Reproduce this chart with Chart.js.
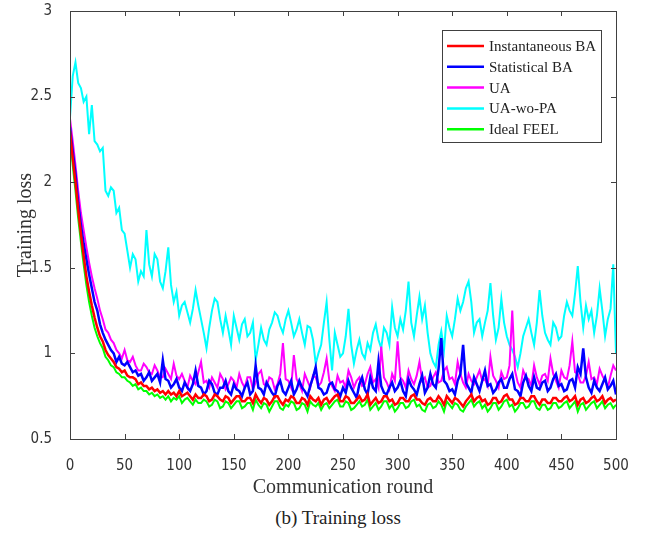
<!DOCTYPE html>
<html>
<head>
<meta charset="utf-8">
<script src="https://cdn.jsdelivr.net/npm/chart.js@4.4.1/dist/chart.umd.min.js"></script>
<style>
  html, body { margin: 0; padding: 0; background: #fff; overflow: hidden; }
  #wrap { position: relative; width: 649px; height: 538px; overflow: hidden; }
  #box { position: absolute; left: 0; top: -8px; width: 649px; height: 508px; }
  #caption {
    position: absolute; left: 0; top: 507px; width: 676px;
    text-align: center; font-family: 'Liberation Serif', 'Times New Roman', serif;
    font-size: 19px; color: #222;
  }
</style>
</head>
<body>
<div id="wrap">
  <div id="box"><canvas id="lossChart"></canvas></div>
  <div id="caption">(b) Training loss</div>
</div>
<script>
// ─── DATA (one value every 2.5 rounds) ────────────────────────────────────────
const rounds = Array.from({ length: 201 }, (_, i) => i * 2.5);
const xTicks = [0, 50, 100, 150, 200, 250, 300, 350, 400, 450, 500];
const yTicks = [0.5, 1, 1.5, 2, 2.5, 3];

const instantaneousBA = [
  2.30, 2.14, 2.00, 1.84, 1.70, 1.57, 1.45, 1.36, 1.28, 1.21,
  1.15, 1.10, 1.07, 1.02, 0.99, 0.97, 0.95, 0.92, 0.91, 0.89,
  0.90, 0.87, 0.86, 0.86, 0.85, 0.82, 0.83, 0.81, 0.81, 0.79,
  0.80, 0.78, 0.79, 0.77, 0.78, 0.76, 0.78, 0.76, 0.77, 0.75,
  0.78, 0.75, 0.76, 0.77, 0.75, 0.73, 0.76, 0.74, 0.74, 0.76,
  0.75, 0.72, 0.73, 0.76, 0.75, 0.73, 0.72, 0.75, 0.74, 0.71,
  0.73, 0.75, 0.75, 0.72, 0.72, 0.74, 0.74, 0.71, 0.76, 0.73,
  0.71, 0.74, 0.73, 0.70, 0.72, 0.75, 0.75, 0.72, 0.70, 0.73,
  0.72, 0.75, 0.74, 0.71, 0.71, 0.74, 0.73, 0.70, 0.75, 0.73,
  0.72, 0.74, 0.70, 0.73, 0.74, 0.71, 0.73, 0.75, 0.76, 0.72,
  0.72, 0.75, 0.74, 0.71, 0.71, 0.73, 0.75, 0.72, 0.73, 0.76,
  0.70, 0.72, 0.74, 0.71, 0.72, 0.75, 0.75, 0.72, 0.73, 0.70,
  0.71, 0.74, 0.74, 0.72, 0.72, 0.75, 0.76, 0.73, 0.73, 0.71,
  0.70, 0.73, 0.74, 0.72, 0.72, 0.75, 0.73, 0.70, 0.75, 0.73,
  0.71, 0.74, 0.73, 0.71, 0.69, 0.72, 0.74, 0.76, 0.72, 0.74,
  0.75, 0.72, 0.73, 0.70, 0.71, 0.74, 0.74, 0.71, 0.72, 0.75,
  0.76, 0.73, 0.73, 0.70, 0.71, 0.74, 0.74, 0.72, 0.72, 0.75,
  0.75, 0.72, 0.70, 0.73, 0.73, 0.71, 0.71, 0.74, 0.74, 0.72,
  0.72, 0.74, 0.75, 0.72, 0.73, 0.75, 0.70, 0.73, 0.74, 0.71,
  0.72, 0.74, 0.75, 0.72, 0.73, 0.75, 0.71, 0.73, 0.74, 0.72,
  0.73
];

const statisticalBA = [
  2.32, 2.18, 2.05, 1.88, 1.75, 1.64, 1.55, 1.46, 1.38, 1.30,
  1.25, 1.17, 1.12, 1.08, 1.05, 1.02, 1.00, 0.95, 0.98, 0.94,
  0.93, 0.95, 0.92, 0.89, 0.90, 0.87, 0.88, 0.84, 0.86, 0.89,
  0.84, 0.86, 0.88, 0.83, 0.96, 0.85, 0.84, 0.80, 0.82, 0.85,
  0.80, 0.78, 0.83, 0.80, 0.78, 0.82, 0.90, 0.81, 0.80, 0.76,
  0.78, 0.84, 0.82, 0.77, 0.76, 0.80, 0.80, 0.84, 0.78, 0.76,
  0.82, 0.79, 0.78, 0.75, 0.80, 0.83, 0.76, 0.78, 0.93, 0.80,
  0.79, 0.76, 0.83, 0.80, 0.77, 0.75, 0.81, 0.84, 0.78, 0.76,
  0.80, 0.84, 0.76, 0.79, 0.84, 0.80, 0.78, 0.75, 0.81, 0.86,
  0.92, 0.80, 0.79, 0.76, 0.77, 0.82, 0.83, 0.79, 0.78, 0.75,
  0.80, 0.77, 0.84, 0.80, 0.77, 0.74, 0.82, 0.86, 0.79, 0.76,
  0.86, 0.80, 0.78, 0.95, 0.81, 0.77, 0.76, 0.80, 0.83, 0.78,
  0.80, 0.84, 0.78, 0.75, 0.85, 0.81, 0.79, 0.76, 0.82, 0.87,
  0.77, 0.80, 0.88, 0.82, 0.80, 0.91, 1.09, 0.84, 0.82, 0.78,
  0.79, 0.76, 0.84, 0.88, 1.05, 0.83, 0.80, 0.77, 0.86, 0.82,
  0.78, 0.84, 0.90, 0.81, 0.82, 0.77, 0.79, 0.83, 0.85, 0.80,
  0.80, 0.85, 0.88, 0.79, 0.78, 0.75, 0.83, 0.87, 0.81, 0.78,
  0.86, 0.80, 0.79, 0.83, 0.84, 0.78, 0.80, 0.85, 0.88, 0.81,
  0.82, 0.78, 0.79, 0.84, 0.85, 0.80, 0.92, 0.88, 1.03, 0.86,
  0.80, 0.77, 0.84, 0.80, 0.78, 0.82, 0.86, 0.79, 0.81, 0.84,
  0.76
];

const ua = [
  2.37, 2.24, 2.10, 1.95, 1.82, 1.72, 1.62, 1.53, 1.45, 1.38,
  1.32, 1.25, 1.20, 1.14, 1.12, 1.08, 1.06, 1.02, 1.00, 0.97,
  1.02, 0.96, 0.95, 0.98, 0.93, 0.90, 0.90, 0.94, 0.92, 0.89,
  0.88, 0.93, 0.90, 0.86, 0.86, 0.91, 0.88, 0.85, 0.94, 0.87,
  0.85, 0.88, 0.84, 0.80, 0.87, 0.84, 0.82, 0.89, 0.95, 0.83,
  0.84, 0.80, 0.86, 0.83, 0.80, 0.88, 0.85, 0.79, 0.82, 0.86,
  0.84, 0.80, 0.88, 0.83, 0.80, 0.86, 0.86, 0.79, 0.83, 0.88,
  0.90, 0.82, 0.81, 0.86, 0.85, 0.79, 0.82, 0.88, 1.06, 0.85,
  0.84, 0.80, 0.99, 0.85, 0.82, 0.78, 0.88, 0.84, 0.80, 0.87,
  0.86, 0.81, 0.83, 0.89, 0.97, 0.84, 0.81, 0.78, 0.87, 0.83,
  0.84, 0.80, 0.90, 0.86, 0.80, 0.84, 0.86, 0.81, 0.82, 0.88,
  0.92, 0.83, 0.85, 0.80, 1.04, 0.86, 0.83, 0.79, 0.88, 0.84,
  1.07, 0.86, 0.84, 0.80, 0.90, 0.85, 0.82, 0.87, 0.95, 0.84,
  0.86, 0.80, 0.81, 0.86, 0.89, 0.83, 0.84, 0.90, 0.92, 0.85,
  0.86, 0.82, 0.95, 0.88, 0.83, 0.80, 0.88, 0.84, 0.82, 0.86,
  0.90, 0.84, 0.85, 0.81, 0.98, 0.87, 0.84, 0.80, 0.89, 0.85,
  0.86, 0.93, 1.25, 0.90, 0.83, 0.80, 0.90, 0.86, 0.85, 0.81,
  0.93, 0.86, 0.82, 0.87, 0.88, 0.84, 0.97, 0.88, 0.84, 0.80,
  0.90, 0.86, 0.85, 0.93, 1.07, 0.89, 0.88, 0.83, 0.83, 0.87,
  0.95, 0.85, 0.86, 0.82, 0.91, 0.87, 0.84, 0.80, 0.87, 0.93,
  0.90
];

const uaWoPA = [
  2.38, 2.62, 2.70, 2.58, 2.55, 2.47, 2.50, 2.28, 2.45, 2.24,
  2.22, 2.18, 2.20, 1.95, 1.92, 1.97, 1.95, 1.82, 1.85, 1.72,
  1.70, 1.60, 1.50, 1.58, 1.55, 1.42, 1.48, 1.45, 1.72, 1.52,
  1.45, 1.58, 1.55, 1.42, 1.38, 1.48, 1.62, 1.40, 1.30, 1.36,
  1.22, 1.28, 1.30, 1.24, 1.18, 1.26, 1.37, 1.28, 1.20, 1.12,
  1.03, 1.15, 1.25, 1.32, 1.30, 1.20, 1.12, 1.22, 1.14, 1.05,
  1.22, 1.15, 1.08, 1.17, 1.20, 1.10, 1.12, 1.18, 0.96, 1.05,
  1.15, 1.08, 1.05, 1.14, 1.18, 1.24, 1.22, 1.16, 1.12, 1.20,
  1.25, 1.18, 1.10, 1.14, 1.20, 1.12, 1.05, 1.16, 1.15, 1.08,
  0.94, 1.00, 1.05, 1.18, 1.30, 1.08, 0.90, 1.12, 1.05, 0.98,
  1.00, 1.10, 1.26, 1.05, 0.94, 1.02, 1.08, 1.00, 0.97, 1.06,
  1.02, 1.12, 1.17, 1.08, 1.03, 1.15, 1.12, 1.05, 1.27, 1.15,
  1.10, 1.20, 1.14, 1.25, 1.42, 1.18, 1.10, 1.22, 1.33, 1.20,
  1.28, 1.12, 1.00, 0.95, 0.92, 1.05, 1.13, 1.02, 1.22, 1.15,
  1.10, 1.20, 1.32, 1.25, 1.30, 1.38, 1.42, 1.30, 1.12, 1.18,
  1.20, 1.10, 1.18, 1.25, 1.41, 1.22, 1.08, 1.15, 1.32, 1.18,
  1.10, 1.05, 1.02, 0.98, 0.92, 1.00, 1.10, 1.15, 1.20, 1.12,
  1.05, 1.18, 1.37, 1.22, 1.12, 1.08, 1.05, 1.18, 1.15, 1.08,
  1.10, 1.22, 1.30, 1.25, 1.22, 1.35, 1.51, 1.30, 1.15, 1.28,
  1.20, 1.25, 1.12, 1.22, 1.38, 1.25, 1.10, 1.20, 1.26, 1.52,
  1.00
];

const idealFEEL = [
  2.28, 2.10, 1.95, 1.79, 1.65, 1.52, 1.40, 1.30, 1.22, 1.15,
  1.10, 1.06, 1.03, 0.98, 0.96, 0.93, 0.92, 0.89, 0.88, 0.86,
  0.86, 0.84, 0.83, 0.81, 0.82, 0.79, 0.80, 0.78, 0.78, 0.76,
  0.77, 0.75, 0.76, 0.74, 0.75, 0.73, 0.75, 0.72, 0.74, 0.73,
  0.75, 0.71, 0.73, 0.74, 0.72, 0.70, 0.73, 0.71, 0.71, 0.73,
  0.72, 0.69, 0.70, 0.73, 0.72, 0.68, 0.69, 0.72, 0.71, 0.68,
  0.70, 0.72, 0.72, 0.68, 0.69, 0.71, 0.71, 0.67, 0.73, 0.70,
  0.68, 0.71, 0.70, 0.66, 0.69, 0.72, 0.72, 0.68, 0.67, 0.70,
  0.69, 0.72, 0.71, 0.67, 0.68, 0.71, 0.70, 0.66, 0.72, 0.70,
  0.69, 0.71, 0.67, 0.70, 0.71, 0.68, 0.70, 0.72, 0.73, 0.69,
  0.69, 0.72, 0.71, 0.67, 0.68, 0.70, 0.72, 0.69, 0.70, 0.73,
  0.67, 0.69, 0.71, 0.67, 0.69, 0.72, 0.72, 0.68, 0.70, 0.66,
  0.68, 0.71, 0.71, 0.68, 0.69, 0.72, 0.73, 0.69, 0.70, 0.67,
  0.66, 0.70, 0.71, 0.68, 0.69, 0.72, 0.70, 0.66, 0.72, 0.70,
  0.68, 0.71, 0.70, 0.67, 0.66, 0.69, 0.71, 0.73, 0.69, 0.71,
  0.72, 0.68, 0.70, 0.66, 0.68, 0.71, 0.71, 0.67, 0.69, 0.72,
  0.73, 0.69, 0.70, 0.66, 0.68, 0.71, 0.71, 0.68, 0.69, 0.72,
  0.72, 0.68, 0.67, 0.70, 0.70, 0.67, 0.68, 0.71, 0.71, 0.68,
  0.69, 0.71, 0.72, 0.68, 0.70, 0.72, 0.66, 0.70, 0.71, 0.67,
  0.69, 0.71, 0.72, 0.68, 0.70, 0.72, 0.68, 0.70, 0.71, 0.68,
  0.70
];

// ─── STYLE ────────────────────────────────────────────────────────────────────
const AXIS_COLOR = '#404040';
const TICK_FONT  = "'Liberation Sans Narrow', 'DejaVu Sans Condensed', 'Liberation Sans', sans-serif";
const SERIF_FONT = "'Liberation Serif', 'Times New Roman', serif";

function series(label, values, color, width, order) {
  return {
    label,
    data: values.map((v, i) => ({ x: rounds[i], y: v })),
    borderColor: color,
    backgroundColor: color,
    borderWidth: width,
    pointRadius: 0,
    tension: 0,
    order,
  };
}

// box + inward ticks on all four sides, legend box top right
const framePlugin = {
  id: 'frame',
  afterDatasetsDraw(chart) {
    const { ctx, chartArea: a, scales: { x, y } } = chart;
    ctx.save();
    ctx.strokeStyle = AXIS_COLOR;
    ctx.lineWidth = 1;
    ctx.strokeRect(a.left + 0.5, a.top + 0.5, a.right - a.left, a.bottom - a.top);
    const len = 5;
    ctx.beginPath();
    xTicks.forEach((t) => {
      const px = Math.round(x.getPixelForValue(t)) + 0.5;
      ctx.moveTo(px, a.bottom); ctx.lineTo(px, a.bottom - len);
      ctx.moveTo(px, a.top);    ctx.lineTo(px, a.top + len);
    });
    yTicks.forEach((t) => {
      const py = Math.round(y.getPixelForValue(t)) + 0.5;
      ctx.moveTo(a.left, py);  ctx.lineTo(a.left + len, py);
      ctx.moveTo(a.right, py); ctx.lineTo(a.right - len, py);
    });
    ctx.stroke();
    ctx.restore();
  },
  afterDraw(chart) {
    const { ctx, chartArea: a } = chart;
    const bx = 442, by = a.top + 19, bw = 159, bh = 112;
    ctx.save();
    ctx.fillStyle = '#fff';
    ctx.fillRect(bx, by, bw, bh);
    ctx.strokeStyle = AXIS_COLOR;
    ctx.lineWidth = 1;
    ctx.strokeRect(bx + 0.5, by + 0.5, bw, bh);
    ctx.font = `15px ${SERIF_FONT}`;
    ctx.textBaseline = 'middle';
    chart.data.datasets.forEach((ds, i) => {
      const ry = by + 16 + i * 20.8;
      ctx.strokeStyle = ds.borderColor;
      ctx.lineWidth = 2.5;
      ctx.beginPath();
      ctx.moveTo(bx + 5, ry); ctx.lineTo(bx + 42, ry);
      ctx.stroke();
      ctx.fillStyle = '#222';
      ctx.fillText(ds.label, bx + 47, ry + 1);
    });
    ctx.restore();
  },
};

const ctx = document.getElementById('lossChart').getContext('2d');

new Chart(ctx, {
  type: 'line',
  data: {
    datasets: [
      series('Instantaneous BA', instantaneousBA, '#ff0000', 2.5, 1),
      series('Statistical BA',   statisticalBA,   '#0000ff', 2.5, 2),
      series('UA',               ua,              '#ff00ff', 2,   3),
      series('UA-wo-PA',         uaWoPA,          '#00ffff', 2,   4),
      series('Ideal FEEL',       idealFEEL,       '#00ff00', 2,   5),
    ],
  },
  plugins: [framePlugin],
  options: {
    responsive: true,
    maintainAspectRatio: false,
    animation: false,
    layout: { padding: { top: 1, right: 33, left: 0, bottom: 0 } },
    plugins: {
      legend: { display: false },
      tooltip: { enabled: false },
    },
    scales: {
      x: {
        type: 'linear',
        min: 0,
        max: 500,
        afterBuildTicks: (s) => { s.ticks = xTicks.map((v) => ({ value: v })); },
        afterFit: (s) => { s.height = 61; },
        grid: { display: false },
        border: { display: false },
        ticks: { color: '#333', font: { family: TICK_FONT, size: 15 }, padding: 10, maxRotation: 0 },
        title: {
          display: true,
          text: 'Communication round',
          color: '#333',
          font: { family: SERIF_FONT, size: 20 },
          padding: { top: 2, bottom: 0 },
        },
      },
      y: {
        type: 'linear',
        min: 0.5,
        max: 3,
        afterBuildTicks: (s) => { s.ticks = yTicks.map((v) => ({ value: v })); },
        afterFit: (s) => { s.width = 70; },
        grid: { display: false },
        border: { display: false },
        ticks: {
          color: '#333',
          font: { family: TICK_FONT, size: 15 },
          padding: 10,
          callback: (v) => String(v),
        },
        title: {
          display: true,
          text: 'Training loss',
          color: '#333',
          font: { family: SERIF_FONT, size: 20 },
          padding: { top: 14, bottom: 0 },
        },
      },
    },
  },
});
</script>
</body>
</html>
